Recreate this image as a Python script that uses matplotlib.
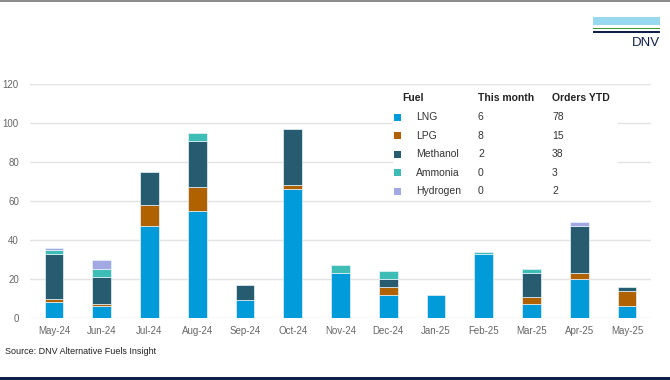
import numpy as np
import matplotlib.pyplot as plt
from matplotlib.patches import Rectangle

plt.rcParams['font.family'] = ['Liberation Sans', 'DejaVu Sans']

months = ['May-24', 'Jun-24', 'Jul-24', 'Aug-24', 'Sep-24', 'Oct-24', 'Nov-24',
          'Dec-24', 'Jan-25', 'Feb-25', 'Mar-25', 'Apr-25', 'May-25']
fuels = ['LNG', 'LPG', 'Methanol', 'Ammonia', 'Hydrogen']
lng = [8, 6, 47, 55, 9, 66, 23, 12, 12, 33, 7, 20, 6]
lpg = [2, 1, 11, 12, 0, 2, 0, 4, 0, 0, 4, 3, 8]
methanol = [23, 14, 17, 24, 8, 29, 0, 4, 0, 0, 12, 24, 2]
ammonia = [2, 4, 0, 4, 0, 0, 4, 4, 0, 1, 2, 0, 0]
hydrogen = [1, 5, 0, 0, 0, 0, 0, 0, 0, 0, 0, 2, 0]
this_month = [6, 8, 2, 0, 0]
orders_ytd = [78, 15, 38, 3, 2]
colors = ['#009BD8', '#B06100', '#275B6F', '#3EBDB7', '#A2A8E2']

W, H = 670, 380
fig = plt.figure(figsize=(W / 100, H / 100), dpi=100)

def px(x, y):
    return x / W, 1 - y / H

ax = fig.add_axes([30 / W, 62 / H, 621 / W, 234 / H])
x = np.arange(len(months))
bottom = np.zeros(len(months))
for vals, c in zip([lng, lpg, methanol, ammonia, hydrogen], colors):
    vals = np.array(vals)
    keep = vals > 0
    ax.bar(x[keep], vals[keep], width=0.39, bottom=bottom[keep], color=c,
           edgecolor='#E8F4FA', linewidth=0.5, zorder=3)
    bottom += vals

ax.set_xlim(-0.5, len(months) - 0.5)
ax.set_ylim(0, 120)
ax.set_yticks(range(0, 121, 20))
ax.set_xticks(x)
ax.set_xticklabels(months)
ax.grid(axis='y', color='#E3E3E3', linewidth=1, zorder=0)
for s in ax.spines.values():
    s.set_visible(False)
ax.tick_params(length=0, labelsize=7, colors='#666666', pad=6)
ax.tick_params(axis='y', pad=8)

# legend table
fig.patches.append(Rectangle(px(393, 200), 225 / W, 112 / H, transform=fig.transFigure,
                             facecolor='white', edgecolor='none', zorder=1))
hy = 98
fig.text(*px(402, hy), 'Fuel', fontsize=7.5, fontweight='bold', va='center', color='#222222')
fig.text(*px(478, hy), 'This month', fontsize=7.5, fontweight='bold', va='center', color='#222222')
fig.text(*px(552, hy), 'Orders YTD', fontsize=7.5, fontweight='bold', va='center', color='#222222')
for i, (f, c) in enumerate(zip(fuels, colors)):
    y = 117 + i * 18.6
    fig.patches.append(Rectangle(px(394, y + 3.5), 7 / W, 7 / H, transform=fig.transFigure,
                                 facecolor=c, edgecolor='none', zorder=2))
    fig.text(*px(416, y), f, fontsize=7.5, va='center', color='#333333')
    fig.text(*px(478, y), str(this_month[i]), fontsize=7.5, va='center', color='#333333')
    fig.text(*px(552, y), str(orders_ytd[i]), fontsize=7.5, va='center', color='#333333')

fig.text(*px(5, 352), 'Source: DNV Alternative Fuels Insight', fontsize=6.5, va='center', color='#222222')

# header line, logo and bottom bar
fig.patches.append(Rectangle(px(0, 2), 1, 2 / H, transform=fig.transFigure,
                             facecolor='#8C8C8C', edgecolor='none'))
fig.patches.append(Rectangle(px(593, 25), 67 / W, 8 / H, transform=fig.transFigure,
                             facecolor='#99D9F0', edgecolor='none'))
fig.patches.append(Rectangle(px(593, 29), 67 / W, 1.5 / H, transform=fig.transFigure,
                             facecolor='#3F9C35', edgecolor='none'))
fig.patches.append(Rectangle(px(593, 33), 67 / W, 2.5 / H, transform=fig.transFigure,
                             facecolor='#0F204B', edgecolor='none'))
fig.text(*px(660, 43), 'DNV', fontsize=9.5, ha='right', va='center', color='#0F204B')
fig.patches.append(Rectangle(px(0, 380), 1, 3 / H, transform=fig.transFigure,
                             facecolor='#0F204B', edgecolor='none'))

fig.savefig('out.png', dpi=100)
